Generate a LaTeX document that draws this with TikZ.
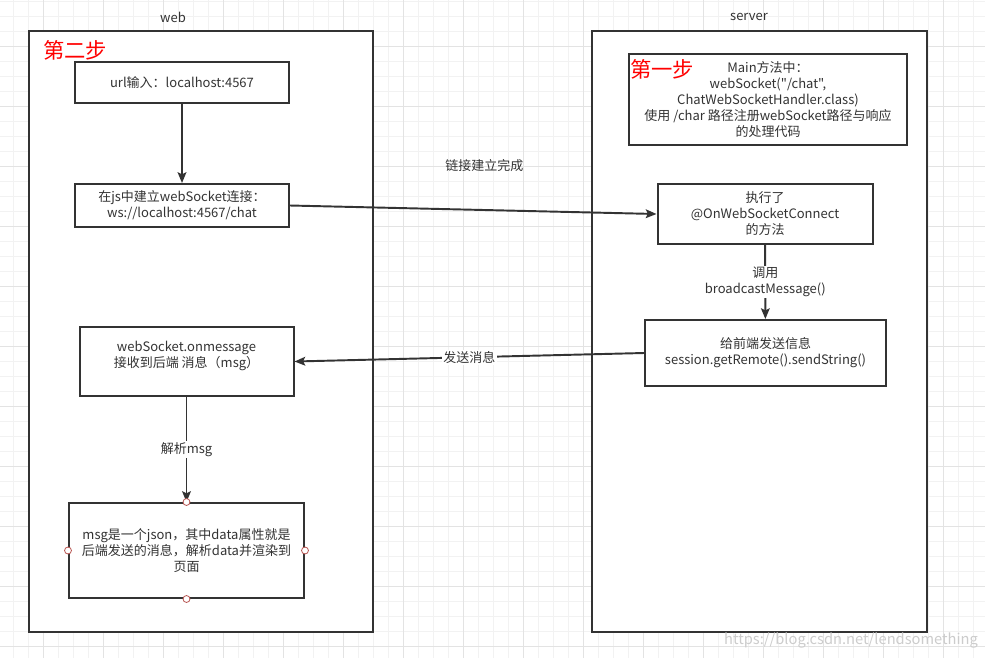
\documentclass[tikz,border=0pt]{standalone}
\usepackage{fontspec}
\newfontfamily\cjk{Noto Sans CJK SC}
\usepackage{xcolor}
\usepackage{tikz}
\usetikzlibrary{arrows.meta}
\definecolor{ink}{HTML}{333333}
\definecolor{portred}{HTML}{B85450}

\begin{document}
\begin{tikzpicture}[x=0.75pt, y=-0.75pt, inner sep=1pt,
    font=\cjk\fontsize{9.75}{12}\selectfont, text=ink,
    frame/.style={draw=ink, line width=1.5pt, fill=white},
    box/.style={draw=ink, line width=1.5pt, fill=white, align=center, inner sep=0pt},
    flow/.style={draw=ink, line width=1.45pt, -{Stealth[length=8pt, width=6.5pt, inset=1.5pt]}},
    lbl/.style={fill=white, align=center, inner sep=1pt},
    redtag/.style={text=red, font=\cjk\fontsize{16}{16}\selectfont},
    port/.style={draw=portred, fill=white, line width=0.6pt}]
    \useasboundingbox (0,0) rectangle (985,658);
    \fill[white] (0,0) rectangle (985,658);
    % background grid
    \foreach \gx in {13.3,28.3,...,985} \draw[gray!10, line width=0.75pt] (\gx,0) -- (\gx,658);
    \foreach \gy in {1.7,16.7,...,658} \draw[gray!10, line width=0.75pt] (0,\gy) -- (985,\gy);
    \foreach \gx in {43.3,103.3,...,985} \draw[gray!22, line width=0.75pt] (\gx,0) -- (\gx,658);
    \foreach \gy in {46.7,106.7,...,658} \draw[gray!22, line width=0.75pt] (0,\gy) -- (985,\gy);
    % the two sides
    \node[frame, minimum width=258pt, minimum height=450.75pt] (web) at (201,331.5) {};
    \node[frame, minimum width=251.25pt, minimum height=450.75pt] (server) at (759.5,331.5) {};
    \node (webtitle) at (173,17) {web};
    \node (servertitle) at (749,17) {server};
    % web
    \node[box, minimum width=160.5pt, minimum height=30.75pt] (url) at (182,82.5)
    {url输入：localhost:4567};
    \node[box, minimum width=160.5pt, minimum height=32.25pt] (js) at (182,205.5)
    {在js中建立webSocket连接：\\ws://localhost:4567/chat};
    \node[box, minimum width=160.5pt, minimum height=51.75pt, text depth=11pt] (onmsg) at (186.5,361.5)
    {webSocket.onmessage\\接收到后端 消息（msg）};
    \node[box, minimum width=176.25pt, minimum height=71.25pt] (msg) at (186.5,550.5)
    {msg是一个json，其中data属性就是\\后端发送的消息，解析data并渲染到\\页面};
    \node[redtag] (step2) at (75,50) {第二步};
    % server
    \node[box, minimum width=208.5pt, minimum height=68.25pt] (main) at (768,99.5)
    {Main方法中：\\webSocket("/chat",\\ChatWebSocketHandler.class)\\使用 /char 路径注册webSocket路径与响应\\的处理代码};
    \node[box, minimum width=161.25pt, minimum height=45pt] (conn) at (765,214)
    {执行了\\@OnWebSocketConnect\\的方法};
    \node[box, minimum width=180.75pt, minimum height=49.5pt] (send) at (765.5,353)
    {给前端发送信息\\session.getRemote().sendString()};
    \node[redtag] (step1) at (662,69) {第一步};
    % connectors
    \draw[flow] (url) -- (js);
    \draw[flow] (js.east) -- (conn.west)
    node[pos=0.53, yshift=33pt]{链接建立完成};
    \draw[flow] (conn) -- (send)
    node[lbl, midway]{调用\\broadcastMessage()};
    \draw[flow] (send.west) -- (onmsg.east)
    node[lbl, midway]{发送消息};
    \draw[flow] (onmsg) -- (msg)
    node[lbl, midway]{解析msg};
    \foreach \a in {north,south,east,west} \draw[port] (msg.\a) circle[radius=2.6pt];
    \node[text=gray!40, font=\cjk\fontsize{11}{11}\selectfont] (mark) at (851,640) {https://blog.csdn.net/lendsomething};
  \end{tikzpicture}
\end{document}
